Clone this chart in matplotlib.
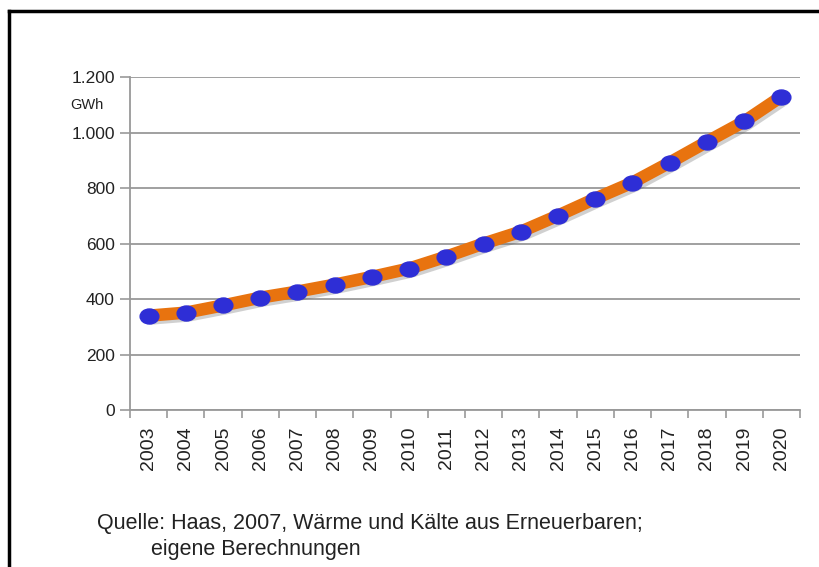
import numpy as np
import matplotlib.pyplot as plt
import matplotlib.patheffects as pe
from matplotlib.lines import Line2D
from matplotlib.path import Path
from matplotlib.transforms import Affine2D

years = ['2003', '2004', '2005', '2006', '2007', '2008', '2009', '2010', '2011',
         '2012', '2013', '2014', '2015', '2016', '2017', '2018', '2019', '2020']
gwh = [340, 351, 377, 405, 427, 452, 480, 510, 553,
       600, 643, 701, 762, 820, 892, 967, 1040, 1130]
y_ticks = [0, 200, 400, 600, 800, 1000, 1200]
y_labels = ['0', '200', '400', '600', '800', '1.000', '1.200']
source = 'Quelle: Haas, 2007, Wärme und Kälte aus Erneuerbaren;\n         eigene Berechnungen'

plt.rcParams['font.family'] = ['Liberation Sans', 'DejaVu Sans']

fig = plt.figure(figsize=(8.19, 5.67), dpi=100)
ax = fig.add_axes([0.1587, 0.2769, 0.8181, 0.5871])

# slightly flat dots like in the original
ellipse = Path.unit_circle().transformed(Affine2D().scale(1.0, 0.8))

x = np.arange(len(years))
ax.plot(x, gwh, color='#E8730F', linewidth=9, solid_capstyle='round', zorder=3,
        path_effects=[pe.SimpleLineShadow(offset=(2, -2), shadow_color='#666666', alpha=0.3),
                      pe.Normal()])
ax.plot(x, gwh, linestyle='none', marker=ellipse, markersize=13.5, color='#2E2ED6',
        markeredgecolor='#2E2ED6', zorder=4)

ax.set_xlim(-0.5, len(years) - 0.5)
ax.set_ylim(0, 1200)
ax.set_yticks(y_ticks)
ax.set_yticklabels(y_labels)
ax.set_xticks(x)
ax.set_xticklabels(years, rotation=90)
ax.set_xticks(np.arange(-0.5, len(years), 1), minor=True)
ax.tick_params(axis='x', which='major', length=0, pad=12, labelsize=14, colors='#222222')
ax.tick_params(axis='x', which='minor', length=6, width=1.2, color='#999999')
ax.tick_params(axis='y', length=7, width=1.2, color='#999999', pad=4,
               labelsize=12.5, labelcolor='#222222')

ax.grid(axis='y', color='#999999', linewidth=1.3)
ax.set_axisbelow(True)
for s in ['top', 'right']:
    ax.spines[s].set_visible(False)
for s in ['left', 'bottom']:
    ax.spines[s].set_color('#999999')
    ax.spines[s].set_linewidth(1.3)

ax.text(-0.04, 1100, 'GWh', transform=ax.get_yaxis_transform(), ha='right',
        va='center', fontsize=10.5, color='#222222')

fig.text(0.118, 0.013, source, ha='left', va='bottom', fontsize=15.5,
         color='#222222', linespacing=1.3)

# frame lines (left and top) of the original picture
fig.add_artist(Line2D([0.011, 0.011], [0, 0.981], color='black', linewidth=2.5))
fig.add_artist(Line2D([0.011, 1.0], [0.981, 0.981], color='black', linewidth=2.5))

fig.savefig('out.png', dpi=100, facecolor='white')
